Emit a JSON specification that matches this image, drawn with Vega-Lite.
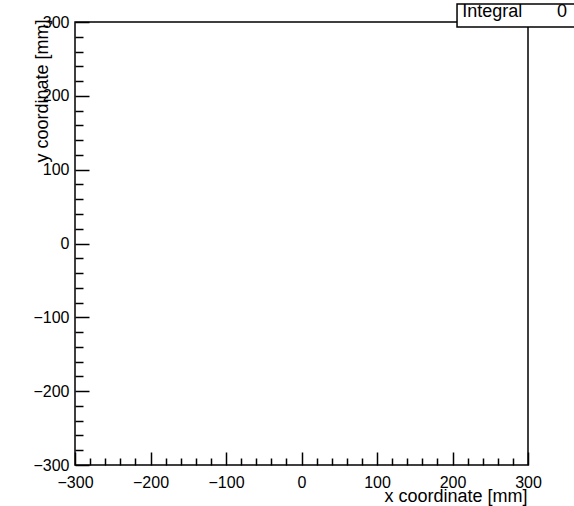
{
  "$schema": "https://vega.github.io/schema/vega-lite/v6.json",
  "width": 453,
  "height": 443,
  "autosize": "none",
  "padding": {"left": 75, "top": 22, "right": 46, "bottom": 41},
  "background": "white",
  "config": {
    "view": {"stroke": "black", "strokeWidth": 1.5},
    "font": "Liberation Sans",
    "axis": {
      "domain": false,
      "grid": false,
      "tickColor": "black",
      "tickWidth": 1.5,
      "labelColor": "black",
      "titleColor": "black",
      "labelFont": "Liberation Sans",
      "titleFont": "Liberation Sans",
      "labelFontSize": 16,
      "titleFontSize": 18,
      "titleFontWeight": "normal",
      "labelFlush": false,
      "labelOverlap": false
    }
  },
  "data": {"values": [{"stat": "Integral", "value": 0}]},
  "layer": [
    {
      "mark": {"type": "rect", "fill": "white", "stroke": "black", "strokeWidth": 1.5},
      "encoding": {
        "x": {
          "datum": 206,
          "type": "quantitative",
          "scale": {"domain": [-300, 300], "nice": false, "zero": false},
          "axis": {
            "title": "x coordinate [mm]",
            "values": [-300,-280,-260,-240,-220,-200,-180,-160,-140,-120,-100,-80,-60,-40,-20,0,20,40,60,80,100,120,140,160,180,200,220,240,260,280,300],
            "tickSize": {"condition": {"test": "datum.value % 100 === 0", "value": -13}, "value": -7},
            "labelExpr": "datum.value % 100 === 0 ? datum.label : ''",
            "labelPadding": 22,
            "labelBaseline": "top",
            "titleAnchor": null,
            "titleAlign": "right",
            "titleBaseline": "alphabetic",
            "titleX": 452,
            "titleY": 36
          }
        },
        "x2": {"datum": 700},
        "y": {
          "datum": 324.4,
          "type": "quantitative",
          "scale": {"domain": [-300, 300], "nice": false, "zero": false},
          "axis": {
            "title": "y coordinate [mm]",
            "values": [-300,-280,-260,-240,-220,-200,-180,-160,-140,-120,-100,-80,-60,-40,-20,0,20,40,60,80,100,120,140,160,180,200,220,240,260,280,300],
            "tickSize": {"condition": {"test": "datum.value % 100 === 0", "value": -14}, "value": -8},
            "labelExpr": "datum.value % 100 === 0 ? datum.label : ''",
            "labelPadding": 20,
            "labelBaseline": "middle",
            "titleAnchor": null,
            "titleAngle": -90,
            "titleAlign": "right",
            "titleBaseline": "bottom",
            "titleX": -24,
            "titleY": -3
          }
        },
        "y2": {"datum": 293.2}
      }
    },
    {
      "mark": {"type": "text", "align": "left", "baseline": "middle", "fontSize": 18, "color": "black"},
      "encoding": {
        "x": {
          "datum": 213,
          "type": "quantitative",
          "scale": {"domain": [-300, 300], "nice": false, "zero": false},
          "axis": {
            "title": "x coordinate [mm]",
            "values": [-300,-280,-260,-240,-220,-200,-180,-160,-140,-120,-100,-80,-60,-40,-20,0,20,40,60,80,100,120,140,160,180,200,220,240,260,280,300],
            "tickSize": {"condition": {"test": "datum.value % 100 === 0", "value": -13}, "value": -7},
            "labelExpr": "datum.value % 100 === 0 ? datum.label : ''",
            "labelPadding": 22,
            "labelBaseline": "top",
            "titleAnchor": null,
            "titleAlign": "right",
            "titleBaseline": "alphabetic",
            "titleX": 452,
            "titleY": 36
          }
        },
        "y": {
          "datum": 313,
          "type": "quantitative",
          "scale": {"domain": [-300, 300], "nice": false, "zero": false},
          "axis": {
            "title": "y coordinate [mm]",
            "values": [-300,-280,-260,-240,-220,-200,-180,-160,-140,-120,-100,-80,-60,-40,-20,0,20,40,60,80,100,120,140,160,180,200,220,240,260,280,300],
            "tickSize": {"condition": {"test": "datum.value % 100 === 0", "value": -14}, "value": -8},
            "labelExpr": "datum.value % 100 === 0 ? datum.label : ''",
            "labelPadding": 20,
            "labelBaseline": "middle",
            "titleAnchor": null,
            "titleAngle": -90,
            "titleAlign": "right",
            "titleBaseline": "bottom",
            "titleX": -24,
            "titleY": -3
          }
        },
        "text": {"field": "stat"}
      }
    },
    {
      "mark": {"type": "text", "align": "center", "baseline": "middle", "fontSize": 18, "color": "black"},
      "encoding": {
        "x": {
          "datum": 345,
          "type": "quantitative",
          "scale": {"domain": [-300, 300], "nice": false, "zero": false},
          "axis": {
            "title": "x coordinate [mm]",
            "values": [-300,-280,-260,-240,-220,-200,-180,-160,-140,-120,-100,-80,-60,-40,-20,0,20,40,60,80,100,120,140,160,180,200,220,240,260,280,300],
            "tickSize": {"condition": {"test": "datum.value % 100 === 0", "value": -13}, "value": -7},
            "labelExpr": "datum.value % 100 === 0 ? datum.label : ''",
            "labelPadding": 22,
            "labelBaseline": "top",
            "titleAnchor": null,
            "titleAlign": "right",
            "titleBaseline": "alphabetic",
            "titleX": 452,
            "titleY": 36
          }
        },
        "y": {
          "datum": 313,
          "type": "quantitative",
          "scale": {"domain": [-300, 300], "nice": false, "zero": false},
          "axis": {
            "title": "y coordinate [mm]",
            "values": [-300,-280,-260,-240,-220,-200,-180,-160,-140,-120,-100,-80,-60,-40,-20,0,20,40,60,80,100,120,140,160,180,200,220,240,260,280,300],
            "tickSize": {"condition": {"test": "datum.value % 100 === 0", "value": -14}, "value": -8},
            "labelExpr": "datum.value % 100 === 0 ? datum.label : ''",
            "labelPadding": 20,
            "labelBaseline": "middle",
            "titleAnchor": null,
            "titleAngle": -90,
            "titleAlign": "right",
            "titleBaseline": "bottom",
            "titleX": -24,
            "titleY": -3
          }
        },
        "text": {"field": "value", "type": "quantitative"}
      }
    }
  ]
}
